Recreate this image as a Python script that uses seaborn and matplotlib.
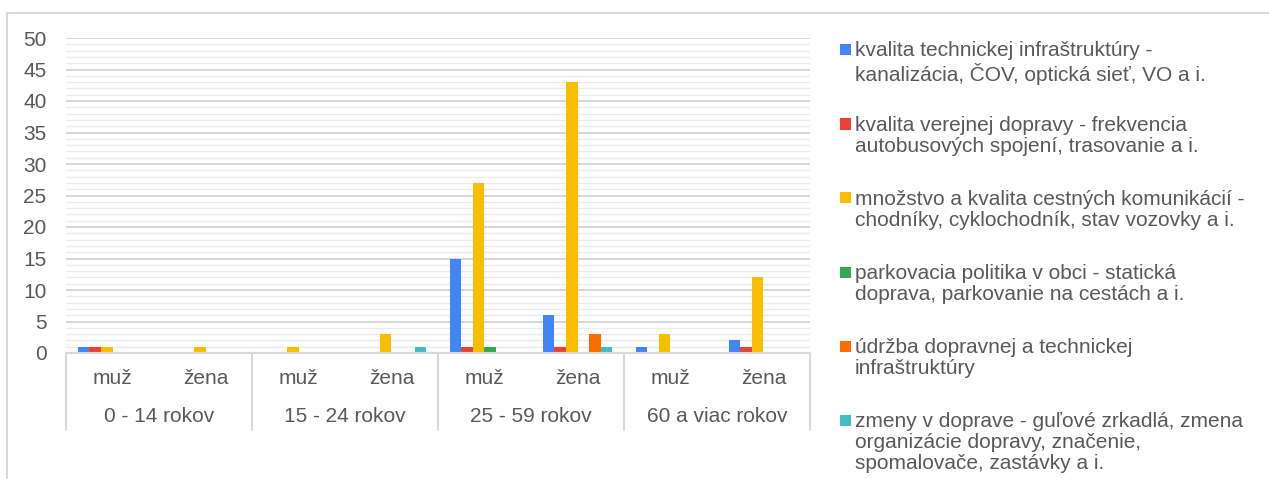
import numpy as np
import pandas as pd
import matplotlib.pyplot as plt
import matplotlib.transforms as mtransforms
from matplotlib.patches import Rectangle
from matplotlib.lines import Line2D
import seaborn as sns

# Dáta
skupiny = ['0 - 14 rokov', '15 - 24 rokov', '25 - 59 rokov', '60 a viac rokov']
pohlavia = ['muž', 'žena']
serie = [
    'kvalita technickej infraštruktúry -\nkanalizácia, ČOV, optická sieť, VO a i.',
    'kvalita verejnej dopravy - frekvencia\nautobusových spojení, trasovanie a i.',
    'množstvo a kvalita cestných komunikácií -\nchodníky, cyklochodník, stav vozovky a i.',
    'parkovacia politika v obci - statická\ndoprava, parkovanie na cestách a i.',
    'údržba dopravnej a technickej\ninfraštruktúry',
    'zmeny v doprave - guľové zrkadlá, zmena\norganizácie dopravy, značenie,\nspomalovače, zastávky a i.',
]
# hodnoty v poradí: 0-14 muž, 0-14 žena, 15-24 muž, 15-24 žena, 25-59 muž, 25-59 žena, 60+ muž, 60+ žena
technicka = [1, 0, 0, 0, 15, 6, 1, 2]
verejna = [1, 0, 0, 0, 1, 1, 0, 1]
cestne = [1, 1, 1, 3, 27, 43, 3, 12]
parkovanie = [0, 0, 0, 0, 1, 0, 0, 0]
udrzba = [0, 0, 0, 0, 0, 3, 0, 0]
zmeny = [0, 0, 0, 1, 0, 1, 0, 0]
farby = ['#4285F4', '#EA4335', '#FBBC04', '#34A853', '#FF6D01', '#46BDC6']

sns.set_theme(style="white")
plt.rcParams['font.family'] = ['Liberation Sans', 'DejaVu Sans']
sivy_text = '#595959'
sivy_ciara = '#d9d9d9'
velkost = 15

kategorie = [f'{g}|{p}' for g in skupiny for p in pohlavia]
hodnoty = [technicka, verejna, cestne, parkovanie, udrzba, zmeny]
df = pd.DataFrame({
    'kat': kategorie * len(serie),
    'seria': np.repeat(serie, len(kategorie)),
    'pocet': np.concatenate(hodnoty),
})

W, H = 1269, 479
fig = plt.figure(figsize=(W / 100, H / 100), dpi=100)

def px(x, y):
    return x / W, 1 - y / H

ax_l, ax_r, ax_t, ax_b = 66, 810, 38, 353
ax = fig.add_axes([ax_l / W, 1 - ax_b / H, (ax_r - ax_l) / W, (ax_b - ax_t) / H])

sns.barplot(data=df, x='kat', y='pocet', hue='seria', order=kategorie, hue_order=serie,
            palette=farby, saturation=1, width=0.75, gap=0, ax=ax, legend=False,
            linewidth=0, err_kws={'linewidth': 0})

ax.set_xlim(-0.5, len(kategorie) - 0.5)
ax.set_ylim(0, 50)
ax.set_yticks(np.arange(0, 51, 5))
ax.set_yticks(np.arange(0, 51, 1), minor=True)
ax.grid(True, which='major', axis='y', color='#d4d4d4', linewidth=1.3)
ax.grid(True, which='minor', axis='y', color='#ececec', linewidth=1.0)
ax.set_axisbelow(True)
ax.tick_params(axis='y', which='both', length=0, labelsize=velkost, labelcolor=sivy_text, pad=14)
ax.tick_params(axis='x', length=0)
ax.set_xticks([])
ax.set_xlabel('')
ax.set_ylabel('')
for s in ['top', 'right', 'left']:
    ax.spines[s].set_visible(False)
ax.spines['bottom'].set_color(sivy_ciara)
ax.spines['bottom'].set_linewidth(1.5)

# popisy osi x (dvojúrovňové)
trans = mtransforms.blended_transform_factory(ax.transData, ax.transAxes)
h_ax = ax_b - ax_t
for i, k in enumerate(kategorie):
    ax.text(i, -25 / h_ax, k.split('|')[1], transform=trans, ha='center', va='center',
            fontsize=velkost, color=sivy_text)
for j, g in enumerate(skupiny):
    ax.text(2 * j + 0.5, -63 / h_ax, g, transform=trans, ha='center', va='center',
            fontsize=velkost, color=sivy_text)
for xb in np.arange(-0.5, len(kategorie), 2):
    ax.plot([xb, xb], [0, -77 / h_ax], transform=trans, color=sivy_ciara, linewidth=1.5,
            clip_on=False)

# legenda
legenda_y = [49.5, 124, 198, 272, 346, 420]
for farba, text, y in zip(farby, serie, legenda_y):
    x0, y0 = px(840, y + 5.5)
    fig.patches.append(Rectangle((x0, y0), 11 / W, 11 / H, transform=fig.transFigure,
                                 facecolor=farba, edgecolor='none'))
    tx, ty = px(855, y - 8)
    fig.text(tx, ty, text, ha='left', va='top', fontsize=velkost, color=sivy_text,
             linespacing=1.12)

# rámik grafu
fig.lines.append(Line2D([7 / W, 1], [1 - 13 / H, 1 - 13 / H], transform=fig.transFigure,
                        color=sivy_ciara, linewidth=1.5))
fig.lines.append(Line2D([7 / W, 7 / W], [0, 1 - 13 / H], transform=fig.transFigure,
                        color=sivy_ciara, linewidth=1.5))

fig.savefig('out.png', dpi=100)
